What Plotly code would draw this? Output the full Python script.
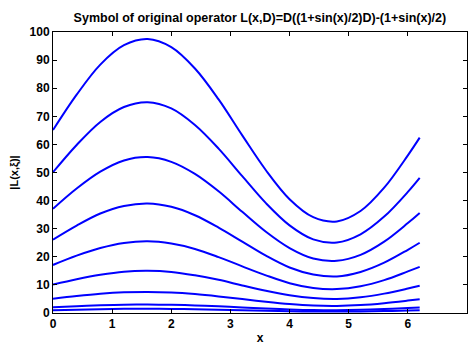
import plotly.graph_objects as go

x_vals = [0, 0.4, 0.8, 1.2, 1.6, 2.0, 2.4, 2.8, 3.2, 3.6, 4.0, 4.4, 4.8, 5.2, 5.6, 6.0, 6.2]

xi8 = [65.1, 77.7, 88.4, 95.3, 97.5, 94.6, 87.0, 76.0, 63.2, 50.8, 40.5, 34.1, 32.6, 36.3, 44.6, 56.1, 62.4]
xi7 = [50.1, 59.8, 68.0, 73.3, 75.0, 72.8, 66.9, 58.5, 48.7, 39.1, 31.2, 26.2, 25.1, 28.0, 34.3, 43.1, 48.1]
xi6 = [37.1, 44.3, 50.3, 54.3, 55.5, 53.8, 49.5, 43.3, 36.0, 28.9, 23.1, 19.4, 18.6, 20.7, 25.4, 32.0, 35.6]
xi5 = [26.1, 31.1, 35.4, 38.1, 39.0, 37.8, 34.8, 30.4, 25.4, 20.4, 16.2, 13.7, 13.0, 14.6, 17.9, 22.5, 25.0]
xi4 = [17.1, 20.4, 23.1, 24.9, 25.5, 24.7, 22.8, 19.9, 16.6, 13.4, 10.6, 8.9, 8.5, 9.5, 11.7, 14.8, 16.4]
xi3 = [10.1, 12.0, 13.6, 14.7, 15.0, 14.6, 13.4, 11.8, 9.8, 7.9, 6.3, 5.3, 5.0, 5.6, 6.9, 8.7, 9.7]
xi2 = [5.10, 6.04, 6.83, 7.34, 7.50, 7.29, 6.73, 5.91, 4.96, 4.00, 3.18, 2.64, 2.51, 2.83, 3.51, 4.41, 4.90]
xi1 = [2.06, 2.43, 2.74, 2.94, 3.00, 2.92, 2.70, 2.38, 2.00, 1.62, 1.29, 1.06, 1.00, 1.14, 1.42, 1.79, 1.98]
xi0 = [1.00, 1.19, 1.36, 1.47, 1.50, 1.45, 1.34, 1.17, 0.97, 0.78, 0.62, 0.52, 0.50, 0.56, 0.68, 0.86, 0.96]

series = [xi0, xi1, xi2, xi3, xi4, xi5, xi6, xi7, xi8]

x_ticks = [0, 1, 2, 3, 4, 5, 6, 7]
y_ticks = [0, 10, 20, 30, 40, 50, 60, 70, 80, 90, 100]

fig = go.Figure()
for s in series:
    fig.add_trace(go.Scatter(x=x_vals, y=s, mode="lines",
                             line=dict(color="#0000ff", width=2, shape="spline", smoothing=1.0),
                             showlegend=False, hoverinfo="skip"))

fam = "Liberation Sans, Arial, sans-serif"
axis_common = dict(showgrid=False, zeroline=False, showline=True, linecolor="black", linewidth=1,
                   mirror="ticks", ticks="inside", ticklen=4, tickcolor="black",
                   tickfont=dict(family=fam, size=12, color="black"))

fig.update_layout(
    width=470, height=345,
    margin=dict(l=53, r=2, t=32, b=29),
    paper_bgcolor="white", plot_bgcolor="white",
    font=dict(family=fam, size=12, color="black"),
    title=dict(text="<b>Symbol of original operator L(x,D)=D((1+sin(x)/2)D)-(1+sin(x)/2)</b>",
               x=0.553, xanchor="center", y=0.95, yanchor="middle",
               font=dict(family=fam, size=12.5, color="black")),
    xaxis=dict(range=[0, 7], tickvals=x_ticks, ticktext=[f"<b>{t}</b>" for t in x_ticks],
               title=dict(text="<b>x</b>", standoff=3, font=dict(family=fam, size=12)), **axis_common),
    yaxis=dict(range=[0, 100], tickvals=y_ticks, ticktext=[f"<b>{t}</b>" for t in y_ticks],
               title=dict(text="<b>|L(x,ξ)|</b>", standoff=8, font=dict(family=fam, size=11)), **axis_common),
)

fig.write_html("out.html")
